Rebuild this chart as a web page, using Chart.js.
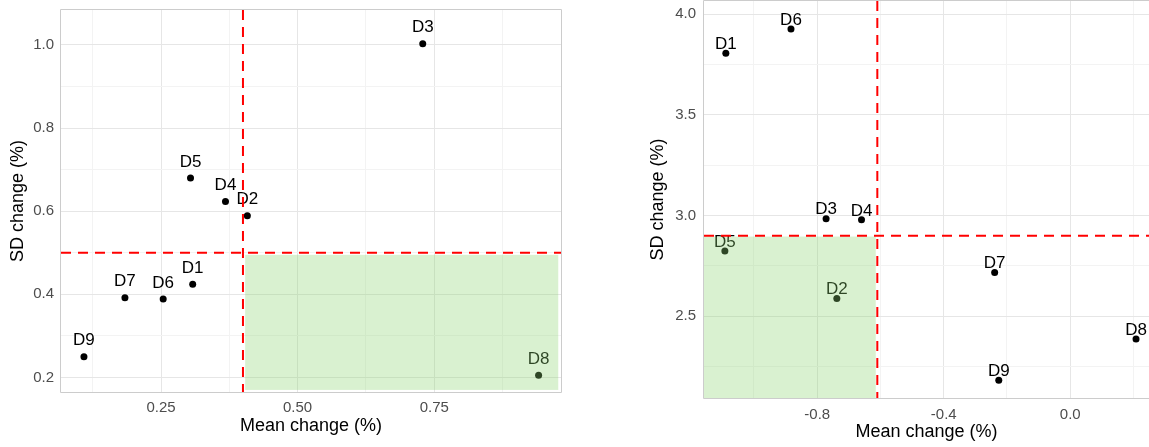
<!DOCTYPE html>
<html>
<head>
<meta charset="utf-8">
<script src="https://cdn.jsdelivr.net/npm/chart.js@4"></script>
<style>
  html, body { margin: 0; padding: 0; background: #ffffff; overflow: hidden; }
  body { width: 1149px; height: 447px; position: relative; }
  .panel { position: absolute; top: 0; }
  #leftWrap { left: 0; width: 575px; height: 447px; }
  #rightWrap { left: 640px; width: 509px; height: 447px; }
</style>
</head>
<body>
<div id="leftWrap" class="panel"><canvas id="leftChart" width="575" height="447"></canvas></div>
<div id="rightWrap" class="panel"><canvas id="rightChart" width="509" height="447"></canvas></div>
<script>
// Domain labels shared by both panels
const categories = ['D1', 'D2', 'D3', 'D4', 'D5', 'D6', 'D7', 'D8', 'D9'];

// Left panel: mean and SD change (%)
const leftMean = [0.308, 0.408, 0.729, 0.368, 0.304, 0.254, 0.184, 0.941, 0.109];
const leftSD   = [0.424, 0.589, 1.003, 0.623, 0.680, 0.389, 0.392, 0.205, 0.250];

// Right panel: mean and SD change (%)
const rightMean = [-1.089, -0.738, -0.772, -0.660, -1.092, -0.883, -0.239, 0.208, -0.226];
const rightSD   = [3.807, 2.588, 2.985, 2.979, 2.824, 3.927, 2.717, 2.387, 2.182];

// Threshold lines (x = mean cut-off, y = SD cut-off)
const leftThreshold  = { x: 0.40, y: 0.50 };
const rightThreshold = { x: -0.61, y: 2.90 };

// Highlighted quadrant (low SD side of each cut-off)
const leftZone  = { xMin: 0.404, xMax: 0.977, yMin: 0.170, yMax: 0.495 };
const rightZone = { xMin: -1.158, xMax: -0.615, yMin: 2.094, yMax: 2.896 };

// Axis ranges
const leftRange  = { xMin: 0.067, xMax: 0.982, yMin: 0.165, yMax: 1.084 };
const rightRange = { xMin: -1.158, xMax: 0.249, yMin: 2.094, yMax: 4.066 };

// Tick values: labelled (major) and unlabelled (minor) grid lines
const leftXMajor  = [0.25, 0.50, 0.75];
const leftXMinor  = [0.125, 0.375, 0.625, 0.875];
const leftXLabels = ['0.25', '0.50', '0.75'];
const leftYMajor  = [0.2, 0.4, 0.6, 0.8, 1.0];
const leftYMinor  = [0.3, 0.5, 0.7, 0.9];
const leftYLabels = ['0.2', '0.4', '0.6', '0.8', '1.0'];

const rightXMajor  = [-0.8, -0.4, 0.0];
const rightXMinor  = [-1.0, -0.6, -0.2, 0.2];
const rightXLabels = ['-0.8', '-0.4', '0.0'];
const rightYMajor  = [2.5, 3.0, 3.5, 4.0];
const rightYMinor  = [2.25, 2.75, 3.25, 3.75];
const rightYLabels = ['2.5', '3.0', '3.5', '4.0'];

const FONT = "'Liberation Sans', Arial, Helvetica, sans-serif";
const GRID_MAJOR = '#e6e6e6';
const GRID_MINOR = '#f3f3f3';
const BORDER = '#cccccc';

function tickSetup(major, minor, labels) {
  const all = major.map((v, i) => ({ value: v, label: labels[i], major: true }))
    .concat(minor.map(v => ({ value: v, label: '', major: false })))
    .sort((a, b) => a.value - b.value);
  return {
    afterBuildTicks(scale) {
      scale.ticks = all.filter(t => t.value >= scale.min && t.value <= scale.max)
        .map(t => ({ value: t.value, major: t.major }));
    },
    callback(value) {
      const t = all.find(a => Math.abs(a.value - value) < 1e-9);
      return t ? t.label : '';
    },
    gridColor(ctx) {
      return ctx.tick && ctx.tick.major ? GRID_MAJOR : GRID_MINOR;
    }
  };
}

// Draws point labels, the shaded quadrant, threshold lines and the panel frame
function overlayPlugin(cfg) {
  return {
    id: 'overlay_' + cfg.key,
    afterDatasetsDraw(chart) {
      const ctx = chart.ctx;
      const xs = chart.scales.x, ys = chart.scales.y;
      const area = chart.chartArea;
      ctx.save();
      ctx.beginPath();
      ctx.rect(area.left, area.top, area.right - area.left, area.bottom - area.top);
      ctx.clip();

      // point labels
      ctx.font = '17px ' + FONT;
      ctx.fillStyle = '#000000';
      ctx.textAlign = 'center';
      ctx.textBaseline = 'middle';
      cfg.names.forEach((name, i) => {
        const px = xs.getPixelForValue(cfg.xs[i]);
        const py = ys.getPixelForValue(cfg.ys[i]);
        ctx.fillText(name, px, py - cfg.labelLift);
      });

      // shaded quadrant, laid over points and labels
      const z = cfg.zone;
      const zx0 = xs.getPixelForValue(z.xMin), zx1 = xs.getPixelForValue(z.xMax);
      const zy0 = ys.getPixelForValue(z.yMax), zy1 = ys.getPixelForValue(z.yMin);
      ctx.fillStyle = 'rgba(140, 214, 112, 0.33)';
      ctx.fillRect(zx0, zy0, zx1 - zx0, zy1 - zy0);

      // threshold lines
      ctx.strokeStyle = '#ff0000';
      ctx.lineWidth = 2;
      ctx.setLineDash([10, 7]);
      const tx = xs.getPixelForValue(cfg.threshold.x);
      const ty = ys.getPixelForValue(cfg.threshold.y);
      ctx.beginPath();
      ctx.moveTo(tx, area.top);
      ctx.lineTo(tx, area.bottom);
      ctx.stroke();
      ctx.beginPath();
      ctx.moveTo(area.left, ty);
      ctx.lineTo(area.right, ty);
      ctx.stroke();
      ctx.restore();

      // panel frame
      ctx.save();
      ctx.strokeStyle = BORDER;
      ctx.lineWidth = 1;
      ctx.beginPath();
      const L = Math.round(area.left) - 0.5, T = Math.round(area.top) - 0.5;
      const R = Math.round(area.right) + 0.5, B = Math.round(area.bottom) + 0.5;
      ctx.moveTo(R, B); ctx.lineTo(L, B); ctx.lineTo(L, T); ctx.lineTo(R, T);
      if (cfg.closeRight) ctx.lineTo(R, B);
      ctx.stroke();
      ctx.restore();
    }
  };
}

function makePanel(canvasId, opt) {
  const xt = tickSetup(opt.xMajor, opt.xMinor, opt.xLabels);
  const yt = tickSetup(opt.yMajor, opt.yMinor, opt.yLabels);
  const points = opt.xs.map((x, i) => ({ x: x, y: opt.ys[i] }));
  return new Chart(document.getElementById(canvasId), {
    type: 'scatter',
    data: {
      datasets: [{
        data: points,
        backgroundColor: '#000000',
        borderColor: '#000000',
        pointRadius: 3.5,
        pointHoverRadius: 3.5,
        borderWidth: 0
      }]
    },
    options: {
      responsive: false,
      animation: false,
      events: [],
      layout: { padding: opt.padding, autoPadding: false },
      plugins: { legend: { display: false }, tooltip: { enabled: false } },
      scales: {
        x: {
          type: 'linear',
          min: opt.range.xMin,
          max: opt.range.xMax,
          afterBuildTicks: xt.afterBuildTicks,
          afterFit(scale) {
            scale.height = opt.xAxisHeight;
            scale.paddingLeft = 0;
            scale.paddingRight = 0;
          },
          ticks: {
            callback: xt.callback,
            autoSkip: false,
            maxRotation: 0,
            padding: opt.xTickPad,
            color: '#4d4d4d',
            font: { family: FONT, size: 15 }
          },
          grid: { color: xt.gridColor, lineWidth: 1, drawTicks: false },
          border: { display: false },
          title: {
            display: true,
            text: 'Mean change (%)',
            color: '#000000',
            font: { family: FONT, size: 18 },
            padding: { top: 0, bottom: opt.xTitlePad }
          }
        },
        y: {
          type: 'linear',
          min: opt.range.yMin,
          max: opt.range.yMax,
          afterBuildTicks: yt.afterBuildTicks,
          afterFit(scale) {
            scale.width = opt.yAxisWidth;
            scale.paddingTop = 0;
            scale.paddingBottom = 0;
          },
          ticks: {
            callback: yt.callback,
            autoSkip: false,
            padding: opt.yTickPad,
            color: '#4d4d4d',
            font: { family: FONT, size: 15 }
          },
          grid: { color: yt.gridColor, lineWidth: 1, drawTicks: false },
          border: { display: false },
          title: {
            display: true,
            text: 'SD change (%)',
            color: '#000000',
            font: { family: FONT, size: 18 },
            padding: { top: 7, bottom: 0 }
          }
        }
      }
    },
    plugins: [overlayPlugin({
      key: canvasId,
      names: categories,
      xs: opt.xs,
      ys: opt.ys,
      labelLift: opt.labelLift,
      zone: opt.zone,
      threshold: opt.threshold,
      closeRight: opt.closeRight
    })]
  });
}

makePanel('leftChart', {
  xs: leftMean, ys: leftSD,
  range: leftRange,
  xMajor: leftXMajor, xMinor: leftXMinor, xLabels: leftXLabels,
  yMajor: leftYMajor, yMinor: leftYMinor, yLabels: leftYLabels,
  zone: leftZone, threshold: leftThreshold,
  padding: { top: 10, right: 14, bottom: 0, left: 0 },
  xAxisHeight: 55, yAxisWidth: 61,
  xTickPad: 7, yTickPad: 7, xTitlePad: 10,
  labelLift: 16, closeRight: true
});

makePanel('rightChart', {
  xs: rightMean, ys: rightSD,
  range: rightRange,
  xMajor: rightXMajor, xMinor: rightXMinor, xLabels: rightXLabels,
  yMajor: rightYMajor, yMinor: rightYMinor, yLabels: rightYLabels,
  zone: rightZone, threshold: rightThreshold,
  padding: { top: 1, right: 0, bottom: 0, left: 0 },
  xAxisHeight: 49, yAxisWidth: 64,
  xTickPad: 8, yTickPad: 8, xTitlePad: 4,
  labelLift: 9, closeRight: false
});
</script>
</body>
</html>
